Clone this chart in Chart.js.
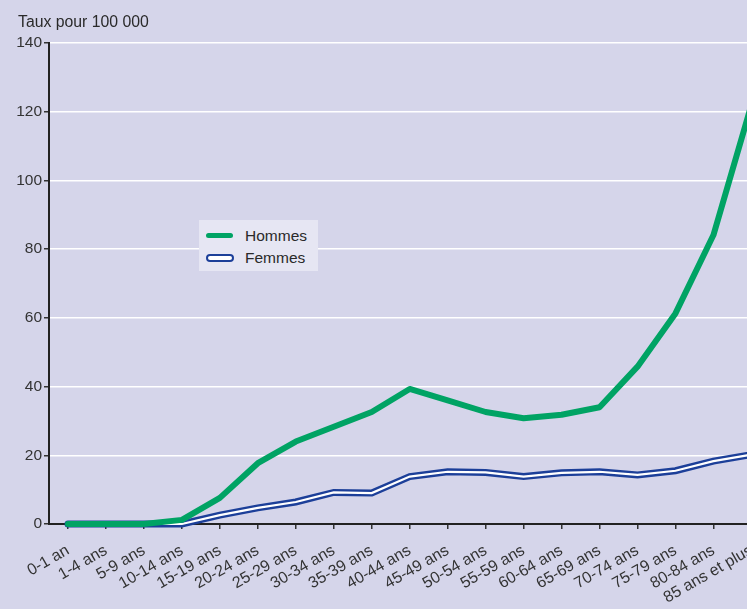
<!DOCTYPE html>
<html>
<head>
<meta charset="utf-8">
<script src="https://cdn.jsdelivr.net/npm/chart.js@4/dist/chart.umd.min.js"></script>
<style>
  html, body { margin:0; padding:0; width:747px; height:609px; overflow:hidden; background:#d5d5ea; font-family:"Liberation Sans", Arial, sans-serif; }
  #wrap { position:absolute; left:0; top:0; width:773px; height:609px; }
  #title { position:absolute; left:18px; top:13px; font-size:15.8px; color:#2a2a2a; white-space:nowrap; }
  #legend { position:absolute; left:199px; top:220px; width:119px; height:51px; background:#e6e6f3; }
  .item { position:absolute; left:0; height:20px; font-size:15.5px; color:#2a2a2a; }
  .item span { position:absolute; left:46px; top:0; line-height:20px; white-space:nowrap; }
  .sw { position:absolute; left:7px; }
</style>
</head>
<body>
<div id="wrap"><canvas id="c"></canvas></div>
<div id="title">Taux pour 100 000</div>
<div id="legend">
  <div class="item" style="top:6px;"><div class="sw" style="top:7px;width:27px;height:5px;border-radius:3px;background:#00a364;"></div><span>Hommes</span></div>
  <div class="item" style="top:28px;"><div class="sw" style="top:6px;width:24px;height:4px;border:2.5px solid #1c3f99;border-radius:5px;background:#fff;"></div><span>Femmes</span></div>
</div>
<script>
const categories = ['0-1 an','1-4 ans','5-9 ans','10-14 ans','15-19 ans','20-24 ans','25-29 ans','30-34 ans','35-39 ans','40-44 ans','45-49 ans','50-54 ans','55-59 ans','60-64 ans','65-69 ans','70-74 ans','75-79 ans','80-84 ans','85 ans et plus'];
const hommes = [0, 0, 0, 1.2, 7.6, 17.7, 24, 28.3, 32.6, 39.3, 36, 32.6, 30.8, 31.8, 34, 45.8, 61.3, 84.1, 122];
const femmes = [0, 0, 0, 0, 2.6, 4.7, 6.4, 9.2, 9.0, 13.8, 15.2, 15.0, 13.8, 14.9, 15.2, 14.3, 15.5, 18.3, 20.2];
const yTicks = [0, 20, 40, 60, 80, 100, 120, 140];

const yFont = { family: '"Liberation Sans", Arial, sans-serif', size: 15.5 };
const xFont = { family: '"Liberation Sans", Arial, sans-serif', size: 16 };

new Chart(document.getElementById('c'), {
  type: 'line',
  data: {
    labels: categories,
    datasets: [
      { label: 'Hommes', data: hommes, borderColor: '#00a364', borderWidth: 6, borderCapStyle: 'round', borderJoinStyle: 'round', pointRadius: 0, tension: 0, clip: false, order: 0 },
      { label: 'Femmes', data: femmes, borderColor: '#ffffff', borderWidth: 2.2, borderCapStyle: 'round', pointRadius: 0, tension: 0, clip: false, order: 1 },
      { label: 'Femmes-bord', data: femmes, borderColor: '#1c3f99', borderWidth: 7, borderCapStyle: 'round', pointRadius: 0, tension: 0, clip: false, order: 2 }
    ]
  },
  options: {
    responsive: true,
    maintainAspectRatio: false,
    animation: false,
    layout: { padding: { top: 43, right: 0, left: 0, bottom: 0 } },
    plugins: { legend: { display: false }, tooltip: { enabled: false }, title: { display: false } },
    scales: {
      x: {
        type: 'category',
        offset: true,
        afterFit: (s) => { s.height = 85; },
        grid: { display: true, drawOnChartArea: false, offset: false, drawTicks: true, tickLength: 5, color: '#333', lineWidth: 1.5 },
        border: { display: true, color: '#222', width: 2 },
        ticks: { autoSkip: false, maxRotation: 30, minRotation: 30, color: '#333', font: xFont, padding: 12 }
      },
      y: {
        min: 0, max: 140,
        afterFit: (s) => { s.width = 49; },
        afterBuildTicks: (s) => { s.ticks = yTicks.map(v => ({ value: v })); },
        grid: { color: '#ffffff', lineWidth: 1.5, tickLength: 5, tickColor: '#333', drawTicks: true },
        border: { display: true, color: '#222', width: 2 },
        ticks: { color: '#333', font: yFont, padding: 2 }
      }
    }
  }
});
</script>
</body>
</html>
